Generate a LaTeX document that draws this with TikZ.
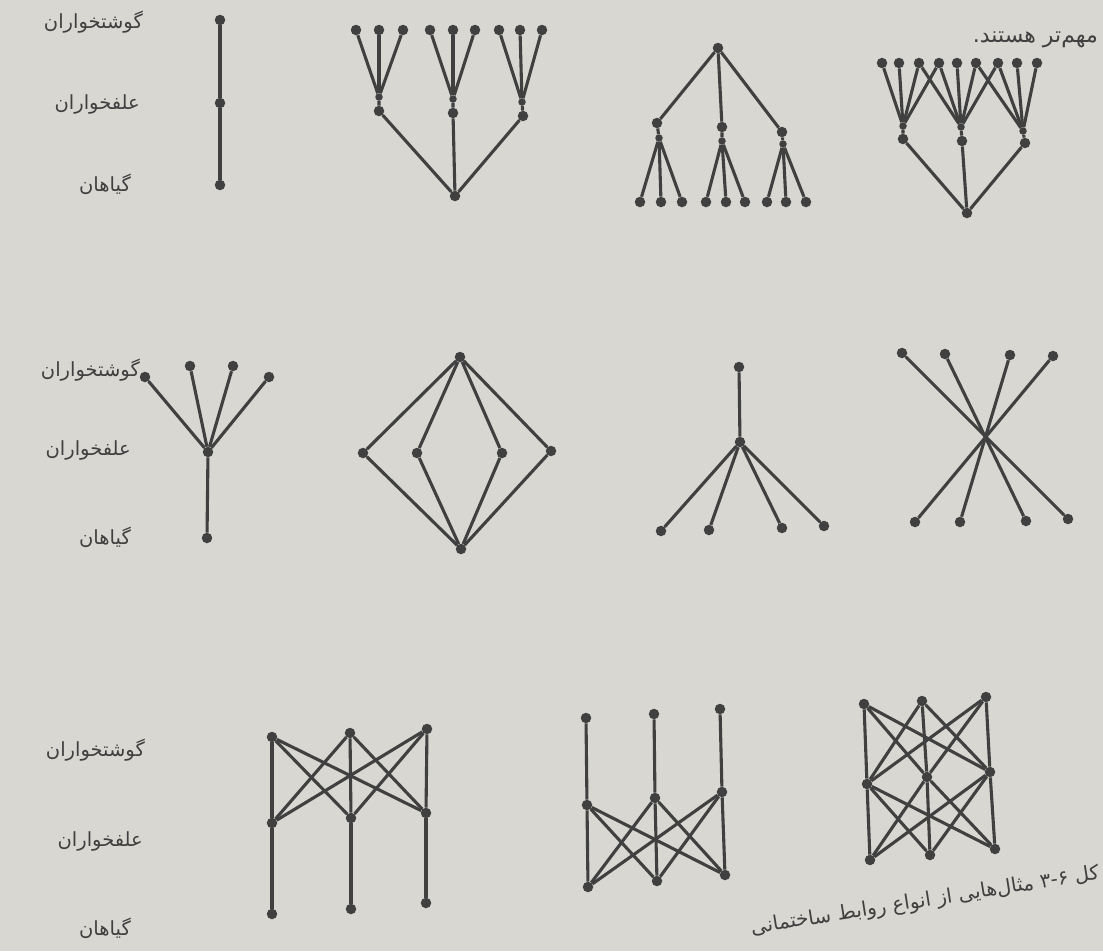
\documentclass[tikz,border=0pt]{standalone}
\usepackage{fontspec}
\usepackage{tikz}
\newfontfamily\persianfont[Script=Arabic]{DejaVu Sans}
\TeXXeTstate=1
\definecolor{PGPaper}{HTML}{D8D7D2}
\definecolor{PGInk}{HTML}{404040}
\tikzset{
  sp/.style={circle,fill=PGInk,inner sep=0pt,minimum size=10.5pt},
  jn/.style={circle,fill=PGInk,inner sep=0pt,minimum size=7.5pt},
  lnk/.style={PGInk,line width=3.1pt},
  lbl/.style={anchor=east,text=PGInk,inner sep=0pt,font=\persianfont\fontsize{19.5}{22}\selectfont},
}

\begin{document}
\begin{tikzpicture}[x=1pt,y=-1pt]
\fill[PGPaper] (0,0) rectangle (1103,951);
\useasboundingbox (0,0) rectangle (1103,951);

% level labels
\node[lbl] (carn1) at (143,22) {\beginR گوشتخواران\endR};
\node[lbl] (herb1) at (140,104) {\beginR علفخواران\endR};
\node[lbl] (plnt1) at (131,184) {\beginR گیاهان\endR};
\node[lbl] (carn2) at (140,370) {\beginR گوشتخواران\endR};
\node[lbl] (herb2) at (131,450) {\beginR علفخواران\endR};
\node[lbl] (plnt2) at (131,537) {\beginR گیاهان\endR};
\node[lbl] (carn3) at (145,750) {\beginR گوشتخواران\endR};
\node[lbl] (herb3) at (143,841) {\beginR علفخواران\endR};
\node[lbl] (plnt3) at (131,928) {\beginR گیاهان\endR};
\node[lbl,font=\persianfont\fontsize{22}{25}\selectfont] (note) at (1098,40) {\beginR مهم‌تر هستند.\endR};

% row 1: simple chain
\node[sp] (a1) at (220,20) {};
\node[sp] (a2) at (220,103) {};
\node[sp] (a3) at (220,185) {};
\draw[lnk] (a1)--(a2)--(a3);

% row 1: three fans on one plant
\foreach \n/\x in {1/356,2/379,3/403,4/430,5/453,6/475,7/499,8/520,9/542}
  \node[sp] (bt\n) at (\x,30) {};
\node[jn] (bj1) at (379,97) {};
\node[jn] (bj2) at (453,99) {};
\node[jn] (bj3) at (522,102) {};
\node[sp] (bm1) at (379,111) {};
\node[sp] (bm2) at (453,113) {};
\node[sp] (bm3) at (523,116) {};
\node[sp] (bb) at (455,196) {};
\foreach \t/\j in {1/1,2/1,3/1,4/2,5/2,6/2,7/3,8/3,9/3}
  \draw[lnk] (bt\t)--(bj\j);
\foreach \j in {1,2,3}
  \draw[lnk] (bj\j)--(bm\j)--(bb);

% row 1: one carnivore, three herbivores
\node[sp] (ct) at (718,48) {};
\node[sp] (cm1) at (657,123) {};
\node[sp] (cm2) at (722,127) {};
\node[sp] (cm3) at (782,132) {};
\node[jn] (cj1) at (659,138) {};
\node[jn] (cj2) at (722,141) {};
\node[jn] (cj3) at (783,144) {};
\foreach \n/\x in {1/640,2/661,3/682,4/706,5/726,6/745,7/767,8/786,9/806}
  \node[sp] (cl\n) at (\x,202) {};
\foreach \j in {1,2,3}
  \draw[lnk] (ct)--(cm\j)--(cj\j);
\foreach \l/\j in {1/1,2/1,3/1,4/2,5/2,6/2,7/3,8/3,9/3}
  \draw[lnk] (cj\j)--(cl\l);

% row 1: overlapping fans
\foreach \n/\x in {1/882,2/899,3/919,4/939,5/957,6/976,7/998,8/1017,9/1037}
  \node[sp] (dt\n) at (\x,63) {};
\node[jn] (dj1) at (903,126) {};
\node[jn] (dj2) at (961,127) {};
\node[jn] (dj3) at (1023,131) {};
\node[sp] (dm1) at (903,139) {};
\node[sp] (dm2) at (962,141) {};
\node[sp] (dm3) at (1025,143) {};
\node[sp] (db) at (967,213) {};
\foreach \t/\j in {1/1,2/1,3/1,4/1,3/2,4/2,5/2,6/2,7/2,6/3,7/3,8/3,9/3}
  \draw[lnk] (dt\t)--(dj\j);
\foreach \j in {1,2,3}
  \draw[lnk] (dj\j)--(dm\j)--(db);

% row 2: fan on one herbivore
\node[sp] (et1) at (145,377) {};
\node[sp] (et2) at (190,366) {};
\node[sp] (et3) at (233,366) {};
\node[sp] (et4) at (269,377) {};
\node[sp] (eh) at (208,452) {};
\node[sp] (eb) at (207,538) {};
\foreach \n in {1,...,4}
  \draw[lnk] (et\n)--(eh);
\draw[lnk] (eh)--(eb);

% row 2: diamond
\node[sp] (ft) at (460,357) {};
\node[sp] (fs1) at (363,453) {};
\node[sp] (fs2) at (417,453) {};
\node[sp] (fs3) at (502,453) {};
\node[sp] (fs4) at (551,451) {};
\node[sp] (fb) at (461,549) {};
\foreach \n in {1,...,4}
  \draw[lnk] (ft)--(fs\n)--(fb);

% row 2: one herbivore, four plants
\node[sp] (gt) at (739,367) {};
\node[sp] (gh) at (740,442) {};
\foreach \n/\x/\y in {1/661/531,2/709/530,3/782/528,4/824/526}
  \node[sp] (gl\n) at (\x,\y) {};
\draw[lnk] (gt)--(gh);
\foreach \n in {1,...,4}
  \draw[lnk] (gh)--(gl\n);

% row 2: crossing lines
\foreach \n/\x/\y in {1/902/353,2/945/354,3/1010/355,4/1053/356}
  \node[sp] (ht\n) at (\x,\y) {};
\foreach \n/\x/\y in {1/915/522,2/960/522,3/1026/521,4/1068/519}
  \node[sp] (hb\n) at (\x,\y) {};
\foreach \a/\b in {1/4,2/3,3/2,4/1}
  \draw[lnk] (ht\a)--(hb\b);

% row 3: web above, chains below
\foreach \n/\x/\y in {1/272/737,2/350/733,3/427/729}
  \node[sp] (it\n) at (\x,\y) {};
\foreach \n/\x/\y in {1/272/823,2/351/818,3/426/813}
  \node[sp] (im\n) at (\x,\y) {};
\foreach \n/\x/\y in {1/272/914,2/351/909,3/426/903}
  \node[sp] (ib\n) at (\x,\y) {};
\foreach \a in {1,2,3}{
  \foreach \b in {1,2,3}
    \draw[lnk] (it\a)--(im\b);
  \draw[lnk] (im\a)--(ib\a);
}

% row 3: chains above, web below
\foreach \n/\x/\y in {1/586/718,2/654/714,3/720/709}
  \node[sp] (jt\n) at (\x,\y) {};
\foreach \n/\x/\y in {1/587/805,2/655/798,3/722/792}
  \node[sp] (jm\n) at (\x,\y) {};
\foreach \n/\x/\y in {1/588/887,2/657/881,3/725/875}
  \node[sp] (jb\n) at (\x,\y) {};
\foreach \a in {1,2,3}{
  \draw[lnk] (jt\a)--(jm\a);
  \foreach \b in {1,2,3}
    \draw[lnk] (jm\a)--(jb\b);
}

% row 3: web on both levels
\foreach \n/\x/\y in {1/864/704,2/922/701,3/986/697}
  \node[sp] (kt\n) at (\x,\y) {};
\foreach \n/\x/\y in {1/867/784,2/927/777,3/990/772}
  \node[sp] (km\n) at (\x,\y) {};
\foreach \n/\x/\y in {1/870/860,2/930/855,3/995/849}
  \node[sp] (kb\n) at (\x,\y) {};
\foreach \a in {1,2,3}
  \foreach \b in {1,2,3}{
    \draw[lnk] (kt\a)--(km\b);
    \draw[lnk] (km\a)--(kb\b);
  }

% caption
\node[lbl,anchor=south east,rotate=9,font=\persianfont\fontsize{20}{23}\selectfont] (capt) at (1101,884)
  {\beginR کل \beginL۳-۶\endL{} مثال‌هایی از انواع روابط ساختمانی\endR};
\end{tikzpicture}
\end{document}
